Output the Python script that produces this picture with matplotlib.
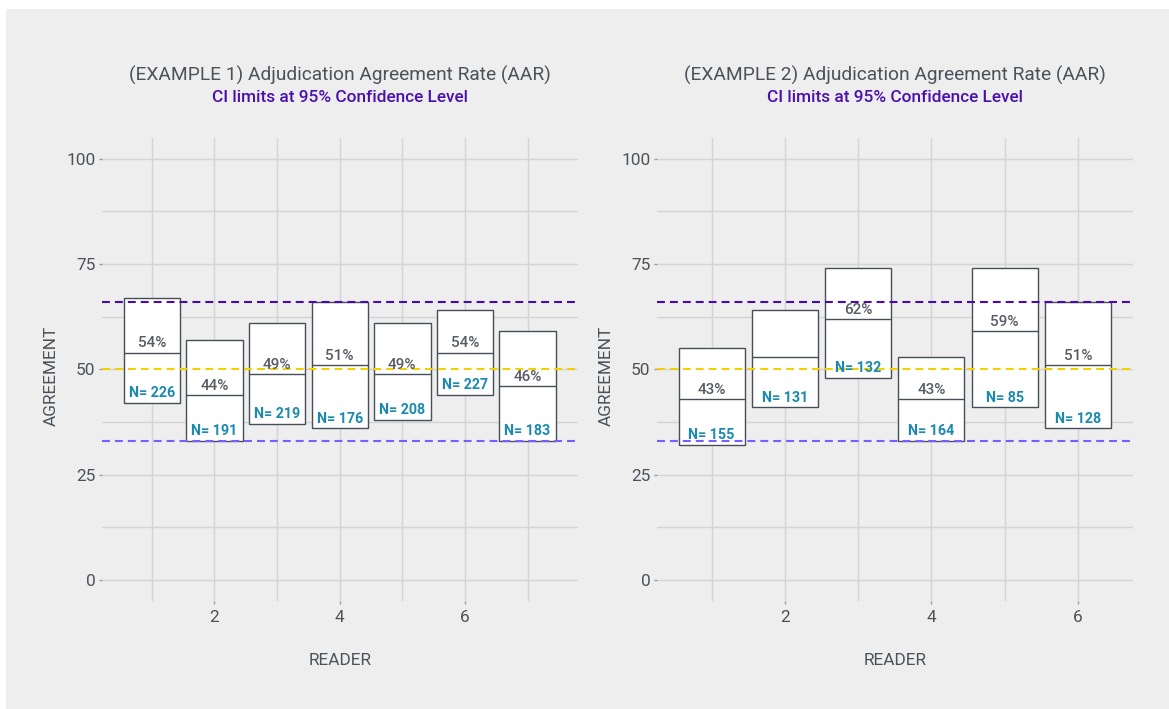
import matplotlib
matplotlib.use('Agg')
import matplotlib.pyplot as plt
from matplotlib.patches import Rectangle

plt.rcParams['font.family'] = ['Roboto', 'DejaVu Sans']

# example 1 - readers 1..7
readers1 = [1, 2, 3, 4, 5, 6, 7]
lower1 = [42, 33, 37, 36, 38, 44, 33]
upper1 = [67, 57, 61, 66, 61, 64, 59]
rate1 = [54, 44, 49, 51, 49, 54, 46]
n1 = [226, 191, 219, 176, 208, 227, 183]
show_pct1 = [True] * 7

# example 2 - readers 1..6
readers2 = [1, 2, 3, 4, 5, 6]
lower2 = [32, 41, 48, 33, 41, 36]
upper2 = [55, 64, 74, 53, 74, 66]
rate2 = [43, 53, 62, 43, 59, 51]
n2 = [155, 131, 132, 164, 85, 128]
show_pct2 = [True, False, True, True, True, True]

# reference lines
ci_high = 66
target = 50
ci_low = 33

titles = ['(EXAMPLE 1) Adjudication Agreement Rate (AAR)',
          '(EXAMPLE 2) Adjudication Agreement Rate (AAR)']
subtitle = 'CI limits at 95% Confidence Level'

BG = '#eeeeee'
GRID = '#d4d4d4'
TXT = '#4a525a'
EDGE = '#464e56'
N_COL = '#1b8ab0'

fig = plt.figure(figsize=(11.69, 7.09), dpi=100)
fig.patch.set_facecolor('white')
fig.patches.append(Rectangle((6 / 1169, 0), 1, 1 - 9 / 709, transform=fig.transFigure,
                             facecolor=BG, edgecolor='none', zorder=-10))

ax1 = fig.add_axes([0.0870, 0.1523, 0.4072, 0.6535])
ax2 = fig.add_axes([0.5618, 0.1523, 0.4072, 0.6535])


def draw_panel(ax, x, lo, hi, rate, n, show_pct, xlim, title):
    ax.set_facecolor(BG)
    heights = [h - l for h, l in zip(hi, lo)]
    ax.bar(x, heights, bottom=lo, width=0.9, color='white', edgecolor=EDGE,
           linewidth=1, zorder=2)
    ax.hlines(rate, [v - 0.45 for v in x], [v + 0.45 for v in x],
              color=EDGE, linewidth=1, zorder=3)

    dash = (0, (3.8, 2.4))
    ax.axhline(ci_high, color='#4b0aa8', linestyle=dash, linewidth=1.5, zorder=4)
    ax.axhline(target, color='#f5d000', linestyle=dash, linewidth=1.5, zorder=4)
    ax.axhline(ci_low, color='#7a5cff', linestyle=dash, linewidth=1.5, zorder=4)

    for xi, r, l, ni, s in zip(x, rate, lo, n, show_pct):
        if s:
            ax.annotate(f'{r}%', (xi, r), xytext=(0, 6.5), textcoords='offset points',
                        ha='center', va='center', fontsize=11, color='#575d63',
                        fontweight='medium', zorder=5)
        ax.annotate(f'N= {ni}', (xi, l), xytext=(0, 7), textcoords='offset points',
                    ha='center', va='center', fontsize=10.3, color=N_COL,
                    fontweight='semibold', zorder=5)

    ax.set_xlim(*xlim)
    ax.set_ylim(-5, 105)
    ax.set_xticks([2, 4, 6])
    ax.set_xticks(list(range(1, len(x) + 1, 2)), minor=True)
    ax.set_yticks([0, 25, 50, 75, 100])
    ax.set_yticks([12.5, 37.5, 62.5, 87.5], minor=True)
    ax.grid(True, which='both', color=GRID, linewidth=1)
    ax.set_axisbelow(True)
    for sp in ax.spines.values():
        sp.set_visible(False)
    ax.tick_params(which='major', length=2.5, width=1, color='#9a9a9a',
                   labelcolor=TXT, labelsize=12.4, pad=2)
    ax.tick_params(axis='x', which='major', pad=4)
    ax.tick_params(which='minor', length=0)

    ax.set_xlabel('READER', fontsize=12.4, color=TXT)
    ax.set_ylabel('AGREEMENT', fontsize=12.4, color=TXT)
    ax.xaxis.set_label_coords(0.5, -0.1116)
    ax.yaxis.set_label_coords(-0.091, 0.487)

    ax.text(0.5, 1.1353, title, transform=ax.transAxes, ha='center',
            va='center', fontsize=13.8, color=TXT)
    ax.text(0.5, 1.0857, subtitle, transform=ax.transAxes, ha='center',
            va='center', fontsize=12.4, color='#4a0fae', fontweight='medium')


draw_panel(ax1, readers1, lower1, upper1, rate1, n1, show_pct1, (0.2, 7.8), titles[0])
draw_panel(ax2, readers2, lower2, upper2, rate2, n2, show_pct2, (0.25, 6.75), titles[1])

fig.savefig('out.png', dpi=100, facecolor=fig.get_facecolor())
